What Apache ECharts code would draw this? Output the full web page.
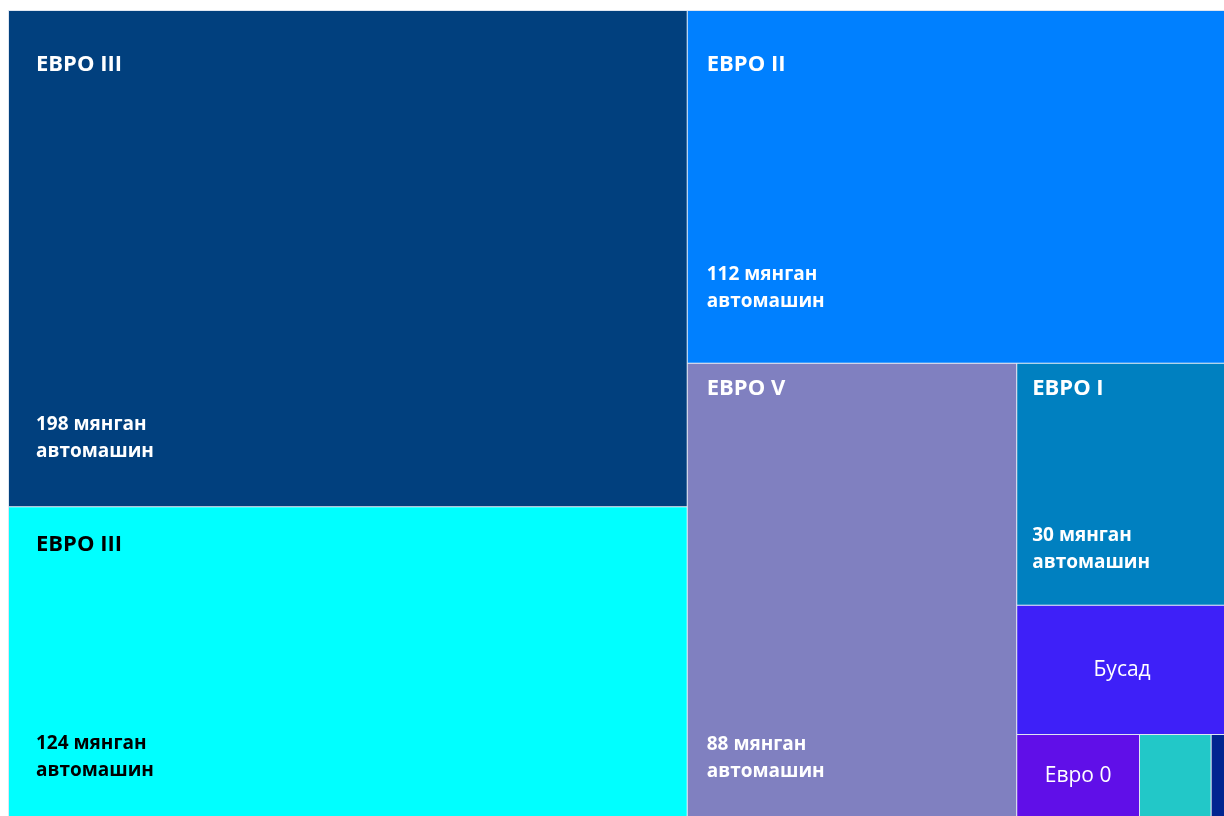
<!DOCTYPE html>
<html>
<head>
<meta charset="utf-8">
<script src="https://cdn.jsdelivr.net/npm/echarts@6/dist/echarts.min.js"></script>
<style>
  html, body { margin: 0; padding: 0; background: #ffffff; }
  #chart { width: 1224px; height: 816px; }
</style>
</head>
<body>
<div id="chart"></div>
<script>
// Vehicle fleet by emission standard (thousand vehicles)
const names = ['ЕВРО III', 'ЕВРО III ', 'ЕВРО II', 'ЕВРО V', 'ЕВРО I', 'Бусад', 'Евро 0', 'Евро IV', 'Евро VI'];
const values = [198, 124, 112, 88, 30, 16, 6, 3.5, 0.8];
const valueLabels = ['198 мянган\nавтомашин', '124 мянган\nавтомашин', '112 мянган\nавтомашин',
  '88 мянган\nавтомашин', '30 мянган\nавтомашин', '', '', '', ''];
const colors = ['#01407e', '#00ffff', '#0080ff', '#8080c0', '#0080c0', '#3e20f8', '#600fe8', '#22c8c8', '#012590'];

// label styling per tile: [name offset x, name offset y, value offset y, text colour, centred?]
const labelStyle = [
  [22, 35, 395, '#ffffff', false],
  [22, 19, 218, '#000000', false],
  [14, 35, 245, '#ffffff', false],
  [14, 6, 362, '#ffffff', false],
  [10, 6, 153, '#ffffff', false],
  [0, 0, 0, '#ffffff', true],
  [0, 0, 0, '#ffffff', true],
  [0, 0, 0, '#ffffff', false],
  [0, 0, 0, '#ffffff', false]
];

const FONT = '"Open Sans", "Noto Sans", sans-serif';
const box = { left: 8, top: 10, width: 1220, height: 808 };

const tiles = names.map((n, i) => {
  const s = labelStyle[i];
  const hasName = i < 7;
  return {
    name: n,
    value: values[i],
    itemStyle: { color: colors[i] },
    label: s[4]
      ? { show: true, position: 'inside', fontFamily: FONT, fontSize: 21, fontWeight: 'normal', color: s[3],
          formatter: n.trim() }
      : { show: hasName, position: [s[0], s[1]], fontFamily: FONT, fontSize: 22, fontWeight: 'bold',
          lineHeight: 28, color: s[3], formatter: n.trim() }
  };
});

const valueTiles = names.map((n, i) => {
  const s = labelStyle[i];
  return {
    name: n,
    value: values[i],
    label: {
      show: valueLabels[i] !== '',
      position: [s[0], s[2]],
      fontFamily: FONT, fontSize: 19, fontWeight: 'bold', lineHeight: 27,
      color: s[3],
      formatter: valueLabels[i]
    }
  };
});

const common = Object.assign({
  type: 'treemap',
  roam: false,
  nodeClick: false,
  breadcrumb: { show: false },
  squareRatio: 1.2,
  animation: false
}, box);

const chart = echarts.init(document.getElementById('chart'));
chart.setOption({
  animation: false,
  series: [
    Object.assign({}, common, {
      levels: [{ color: colors, itemStyle: { borderColor: '#dfe6f1', borderWidth: 1, gapWidth: 1 } }],
      data: tiles
    }),
    Object.assign({}, common, {
      silent: true,
      levels: [{
        color: ['transparent'],
        itemStyle: { color: 'transparent', borderColor: 'transparent', borderWidth: 1, gapWidth: 1 }
      }],
      data: valueTiles
    })
  ]
});
</script>
</body>
</html>
